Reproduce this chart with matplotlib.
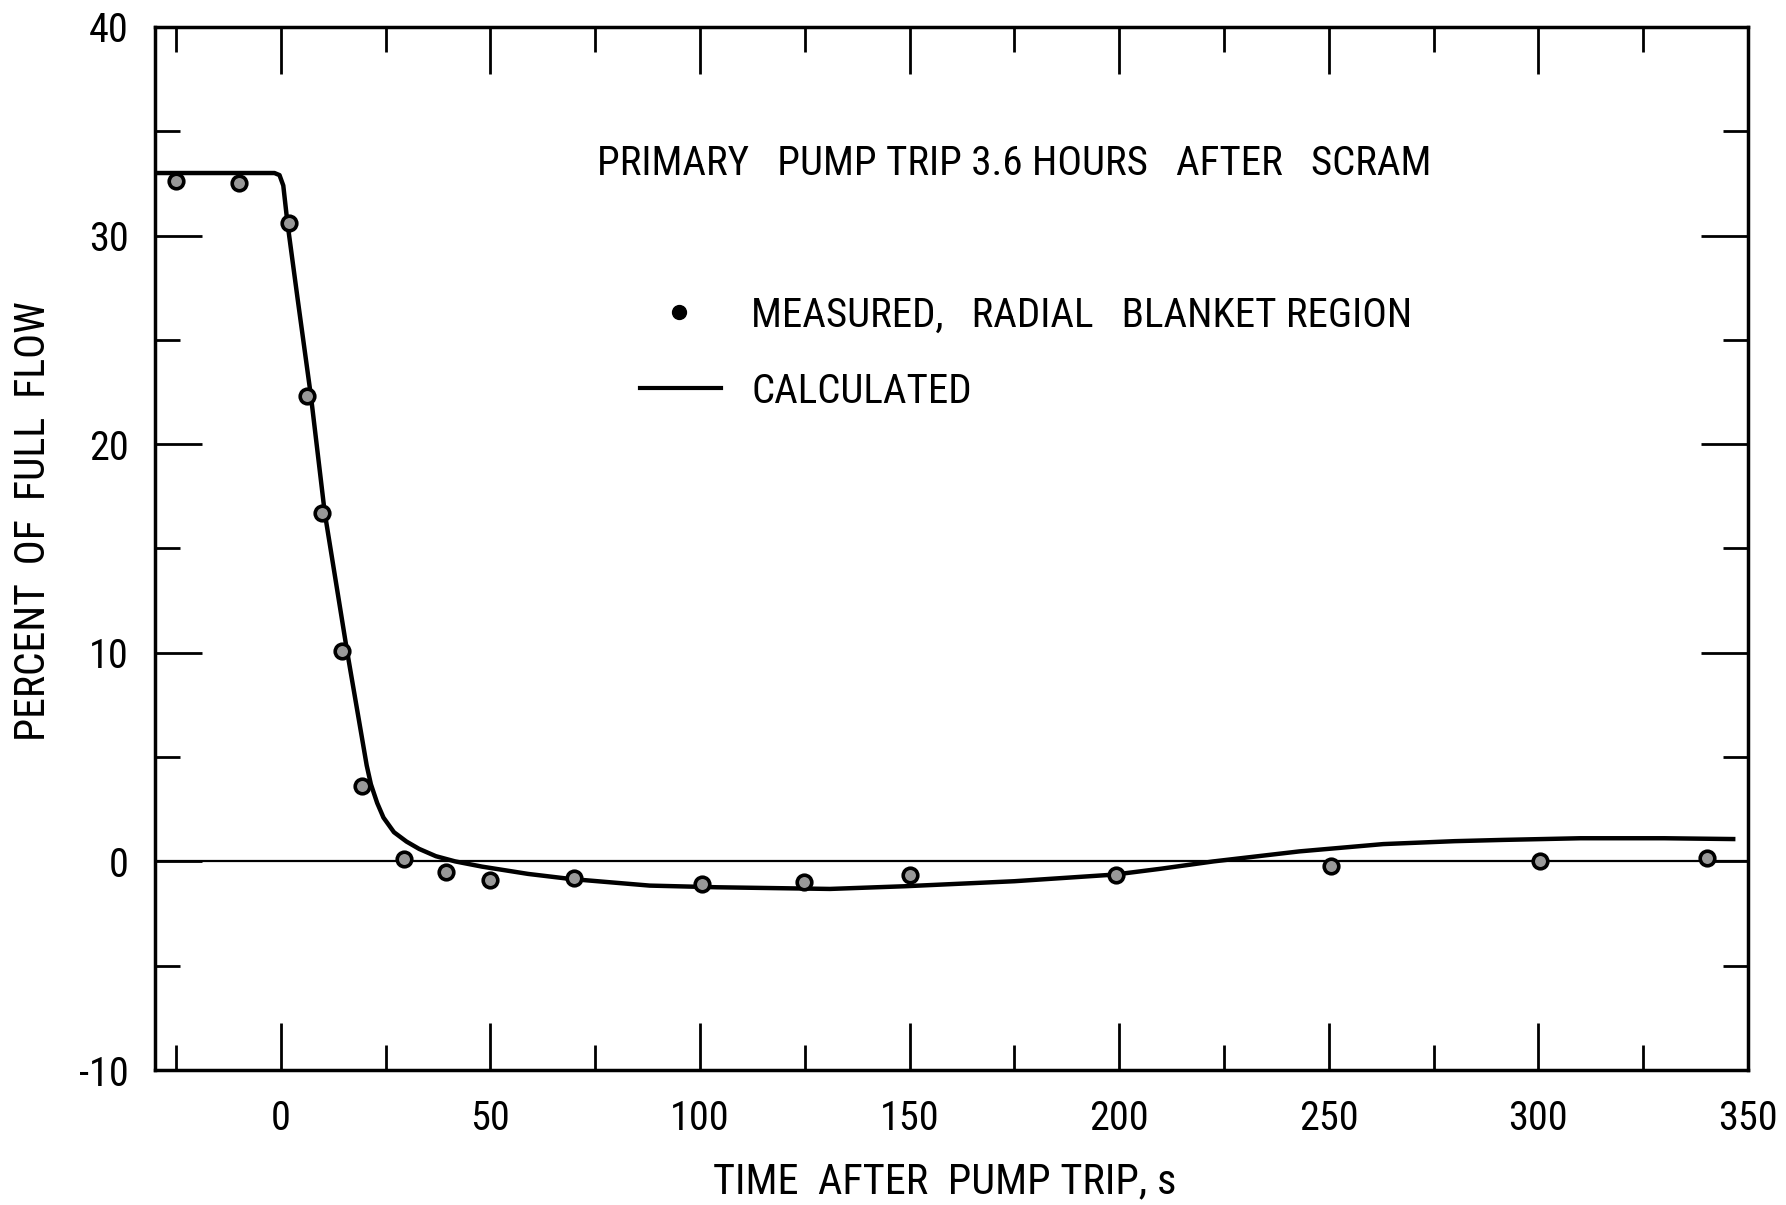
import numpy as np
import matplotlib
matplotlib.use('Agg')
from matplotlib import pyplot as plt
from matplotlib.lines import Line2D
from matplotlib.ticker import MultipleLocator, FixedLocator

plt.rcParams['font.family'] = ['Roboto Condensed', 'DejaVu Sans']
plt.rcParams['axes.unicode_minus'] = False

# measured points, radial blanket region
meas_t = [-25, -10, 2, 6.2, 9.9, 14.6, 19.3, 29.4, 39.5, 49.9, 70, 100.4, 124.7, 150, 199.3, 250.6, 300.5, 340.3]
meas_v = [32.6, 32.5, 30.6, 22.3, 16.7, 10.1, 3.6, 0.1, -0.5, -0.9, -0.8, -1.1, -1.0, -0.65, -0.65, -0.24, 0.0, 0.16]

# calculated curve
calc_t = [-30, -1.5, -0.3, 0.6, 1.6, 4, 7.2, 10.5, 15.8, 20.5, 21.5, 23, 24.5, 27, 30, 33, 37, 41.6,
          48, 59, 69, 88, 104, 131, 149, 175, 199, 210, 222.5, 243, 263, 280, 291.5, 310, 330, 347]
calc_v = [33.0, 33.0, 32.9, 32.4, 30.6, 27.0, 22.3, 16.7, 10.1, 4.6, 3.7, 2.8, 2.1, 1.4, 0.95, 0.6, 0.25, 0.0,
          -0.25, -0.6, -0.84, -1.16, -1.24, -1.32, -1.19, -0.95, -0.63, -0.35, 0.0, 0.48, 0.83, 0.97, 1.03, 1.11, 1.11, 1.07]

xtick_vals = [0, 50, 100, 150, 200, 250, 300, 350]
ytick_vals = [-10, 0, 10, 20, 30, 40]
ytick_text = ['-10', '0', '10', '20', '30', '40']

W, H = 1786, 1205
fig = plt.figure(figsize=(W / 100, H / 100), dpi=100)
ax = fig.add_axes([155 / W, 1 - 1070 / H, (1748 - 155) / W, (1070 - 27) / H])

ax.axhline(0, color='black', lw=1.6, zorder=1)
ax.plot(calc_t, calc_v, color='black', lw=3.2, solid_capstyle='butt', zorder=2)
ax.plot(meas_t, meas_v, 'o', ms=10.5, mfc='0.6', mec='black', mew=2.6, zorder=3)

ax.set_xlim(-30, 350)
ax.set_ylim(-10, 40)

ax.xaxis.set_major_locator(FixedLocator(xtick_vals))
ax.xaxis.set_minor_locator(MultipleLocator(25))
ax.yaxis.set_major_locator(FixedLocator(ytick_vals))
ax.yaxis.set_minor_locator(MultipleLocator(5))
ax.set_xticklabels([str(v) for v in xtick_vals])
ax.set_yticklabels(ytick_text)

ax.tick_params(which='both', direction='in', top=True, right=True, width=2, color='black')
ax.tick_params(which='major', length=34)
ax.tick_params(which='minor', length=18)
ax.tick_params(axis='x', which='major', pad=21, labelsize=29)
ax.tick_params(axis='y', which='major', pad=19, labelsize=29)
for s in ax.spines.values():
    s.set_linewidth(2.5)

fig.text(597 / W, 1 - 175 / H, 'PRIMARY   PUMP TRIP 3.6 HOURS   AFTER   SCRAM', fontsize=29.5, ha='left', va='baseline')

# legend drawn by hand
fig.add_artist(Line2D([679 / W], [1 - 312 / H], marker='o', ms=10, mfc='black', mec='black', ls='none'))
fig.text(751 / W, 1 - 327 / H, 'MEASURED,   RADIAL   BLANKET REGION', fontsize=29.5, ha='left', va='baseline')
fig.add_artist(Line2D([640 / W, 721 / W], [1 - 388 / H, 1 - 388 / H], color='black', lw=3.0))
fig.text(751 / W, 1 - 403 / H, 'CALCULATED', fontsize=29.5, ha='left', va='baseline')

fig.text(945 / W, 1 - 1182 / H, 'TIME  AFTER  PUMP TRIP, s', fontsize=30.5, ha='center', va='center')
fig.text(34 / W, 1 - 521 / H, 'PERCENT  OF  FULL  FLOW', fontsize=30, ha='center', va='center', rotation=90)

plt.savefig('out.png', dpi=100)
